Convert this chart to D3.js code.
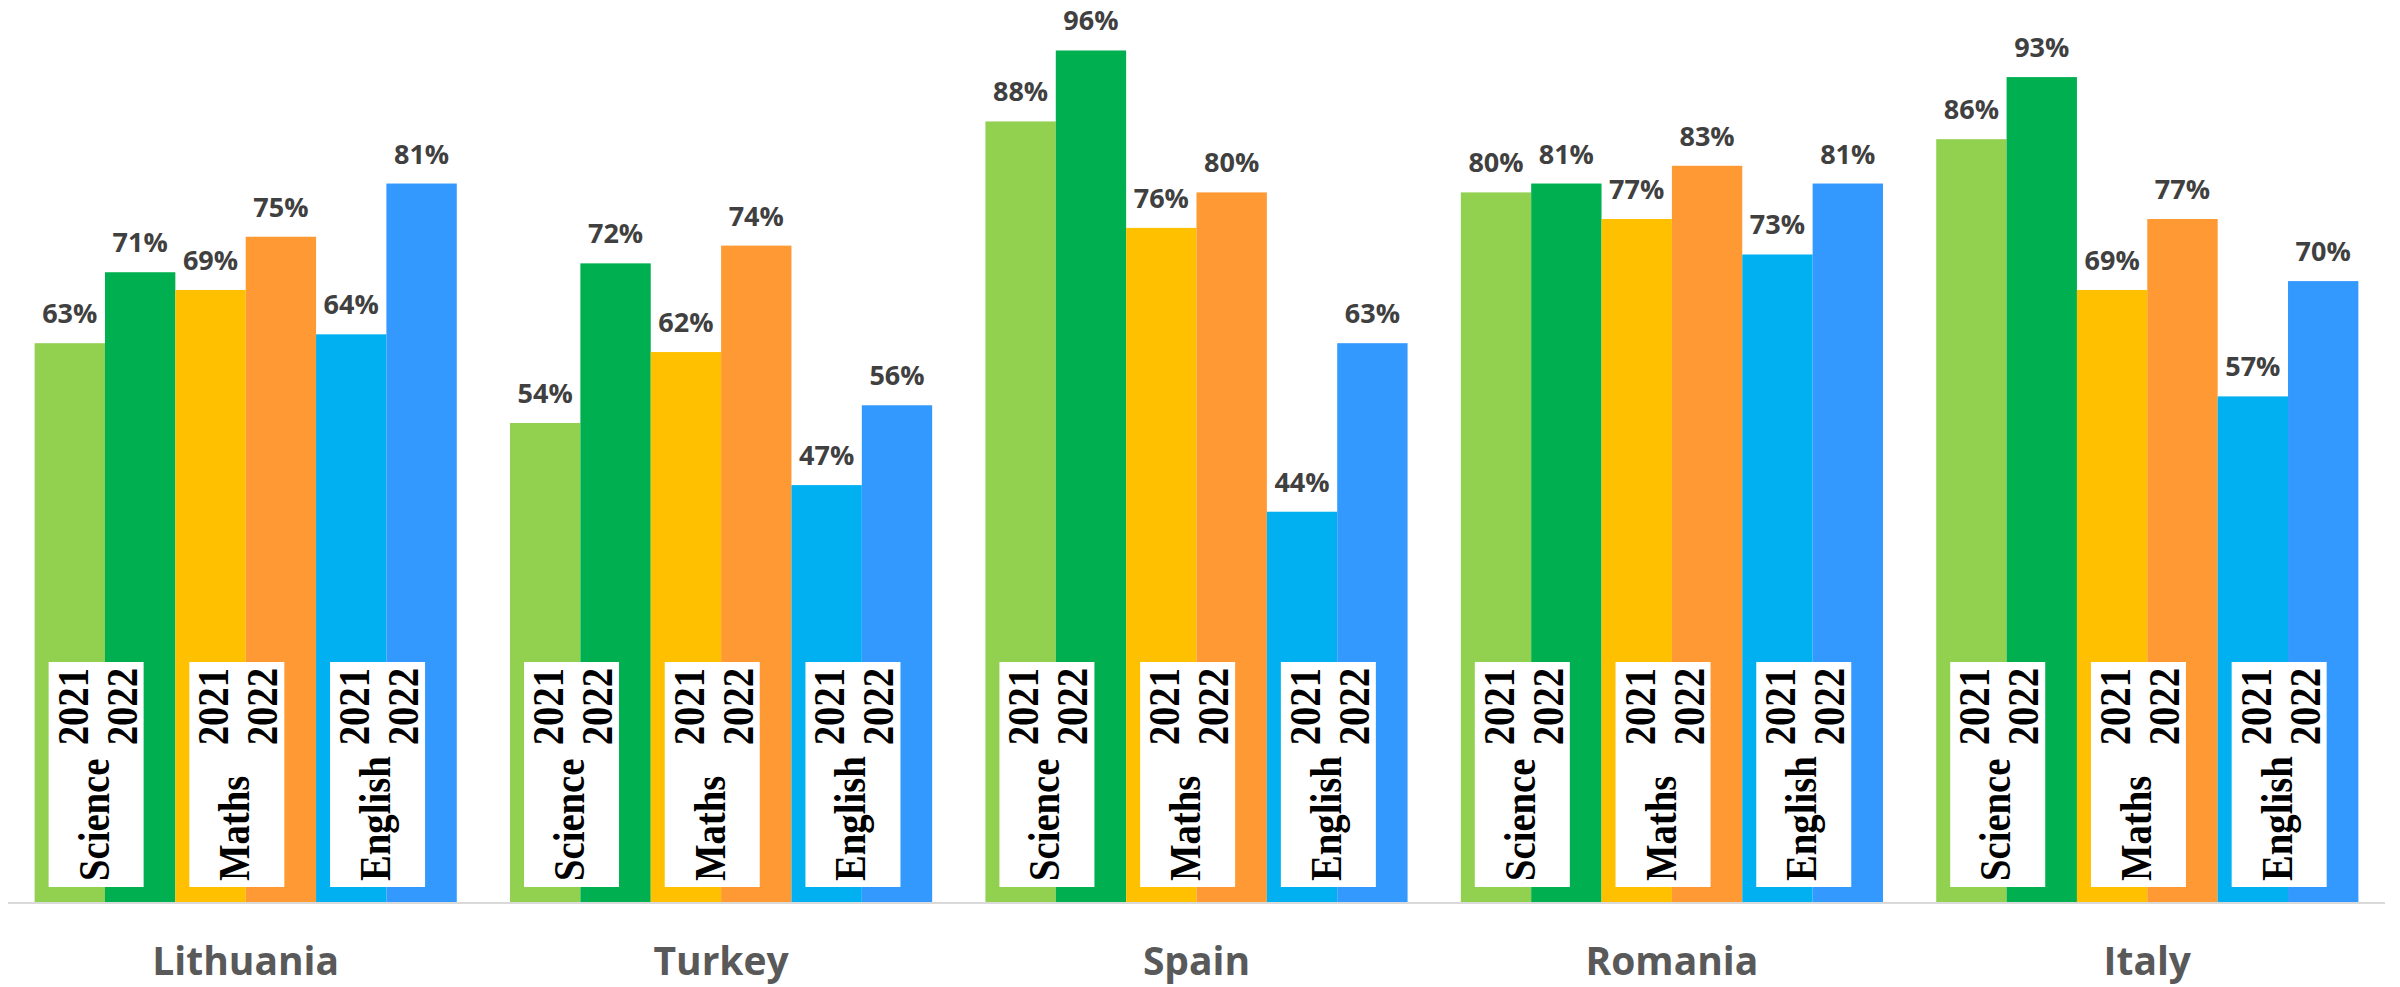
<!DOCTYPE html>
<html>
<head>
<meta charset="utf-8">
<script src="https://cdn.jsdelivr.net/npm/d3@7/dist/d3.min.js"></script>
<style>
  body { margin: 0; background: #fff; }
  svg { display: block; }
</style>
</head>
<body>
<div id="chart"></div>
<script>
var w = 2400,
    h = 987;

var countries = ["Lithuania", "Turkey", "Spain", "Romania", "Italy"];
var series = ["Science 2021", "Science 2022", "Maths 2021", "Maths 2022", "English 2021", "English 2022"];
var subjects = ["Science", "Maths", "English"];
var years = ["2021", "2022"];
var colors = ["#92d050", "#00b050", "#ffc000", "#ff9933", "#00b0f0", "#3399ff"];

// one row per country, same order as series
var lithuania = [63, 71, 69, 75, 64, 81];
var turkey    = [54, 72, 62, 74, 47, 56];
var spain     = [88, 96, 76, 80, 44, 63];
var romania   = [80, 81, 77, 83, 73, 81];
var italy     = [86, 93, 69, 77, 57, 70];
var values = [lithuania, turkey, spain, romania, italy];

var svg = d3.select("#chart").append("svg")
    .attr("width", w)
    .attr("height", h);

var x0 = d3.scaleBand()
    .domain(countries)
    .range([8, 2385])
    .paddingInner(0.112)
    .paddingOuter(0.056);

var x1 = d3.scaleBand()
    .domain(series)
    .range([0, x0.bandwidth()])
    .padding(0);

var y = d3.scaleLinear()
    .domain([0, 100])
    .range([902, 15]);

var groups = svg.selectAll("g.country")
    .data(countries)
    .enter().append("g")
    .attr("class", "country")
    .attr("transform", function(d) { return "translate(" + x0(d) + ",0)"; });

groups.selectAll("rect.bar")
    .data(function(d, i) {
      return series.map(function(s, j) { return { key: s, value: values[i][j], color: colors[j] }; });
    })
    .enter().append("rect")
    .attr("class", "bar")
    .attr("x", function(d) { return x1(d.key); })
    .attr("y", function(d) { return y(d.value); })
    .attr("width", x1.bandwidth())
    .attr("height", function(d) { return y(0) - y(d.value); })
    .style("fill", function(d) { return d.color; });

groups.selectAll("text.value")
    .data(function(d, i) {
      return series.map(function(s, j) { return { key: s, value: values[i][j] }; });
    })
    .enter().append("text")
    .attr("class", "value")
    .attr("x", function(d) { return x1(d.key) + x1.bandwidth() / 2; })
    .attr("y", function(d) { return y(d.value) - 20; })
    .attr("text-anchor", "middle")
    .style("font-family", "'Open Sans', sans-serif")
    .style("font-weight", "bold")
    .style("font-size", "27px")
    .style("fill", "#404040")
    .text(function(d) { return d.value + "%"; });

// white label boxes with rotated subject / year text
var boxTop = 662, boxBottom = 887, boxW = 95;

function vtext(sel, tx, ty, anchor, str) {
  sel.append("text")
    .attr("transform", "translate(" + tx + "," + ty + ") rotate(-90) scale(0.86,1)")
    .attr("text-anchor", anchor)
    .style("font-family", "'Liberation Serif', 'Times New Roman', serif")
    .style("font-weight", "bold")
    .style("font-size", "45px")
    .style("fill", "#000")
    .text(str);
}

groups.each(function(c, ci) {
  var g = d3.select(this);
  subjects.forEach(function(sub, k) {
    var bx = x1(series[k * 2]) + 14;
    var lab = g.append("g").attr("class", "label");
    lab.append("rect")
      .attr("x", bx)
      .attr("y", boxTop)
      .attr("width", boxW)
      .attr("height", boxBottom - boxTop)
      .style("fill", "#fff");
    vtext(lab, bx + 39, boxTop + 6, "end", years[0]);
    vtext(lab, bx + 60, boxBottom - 6, "start", sub);
    vtext(lab, bx + 88, boxTop + 6, "end", years[1]);
  });
});

// baseline
svg.append("line")
    .attr("x1", 8)
    .attr("x2", 2385)
    .attr("y1", y(0) + 1)
    .attr("y2", y(0) + 1)
    .style("stroke", "#d9d9d9")
    .style("stroke-width", 2);

// category labels
svg.selectAll("text.cat")
    .data(countries)
    .enter().append("text")
    .attr("class", "cat")
    .attr("x", function(d) { return x0(d) + x0.bandwidth() / 2; })
    .attr("y", 975)
    .attr("text-anchor", "middle")
    .style("font-family", "'Open Sans', sans-serif")
    .style("font-weight", "bold")
    .style("font-size", "39px")
    .style("fill", "#595959")
    .text(function(d) { return d; });
</script>
</body>
</html>
